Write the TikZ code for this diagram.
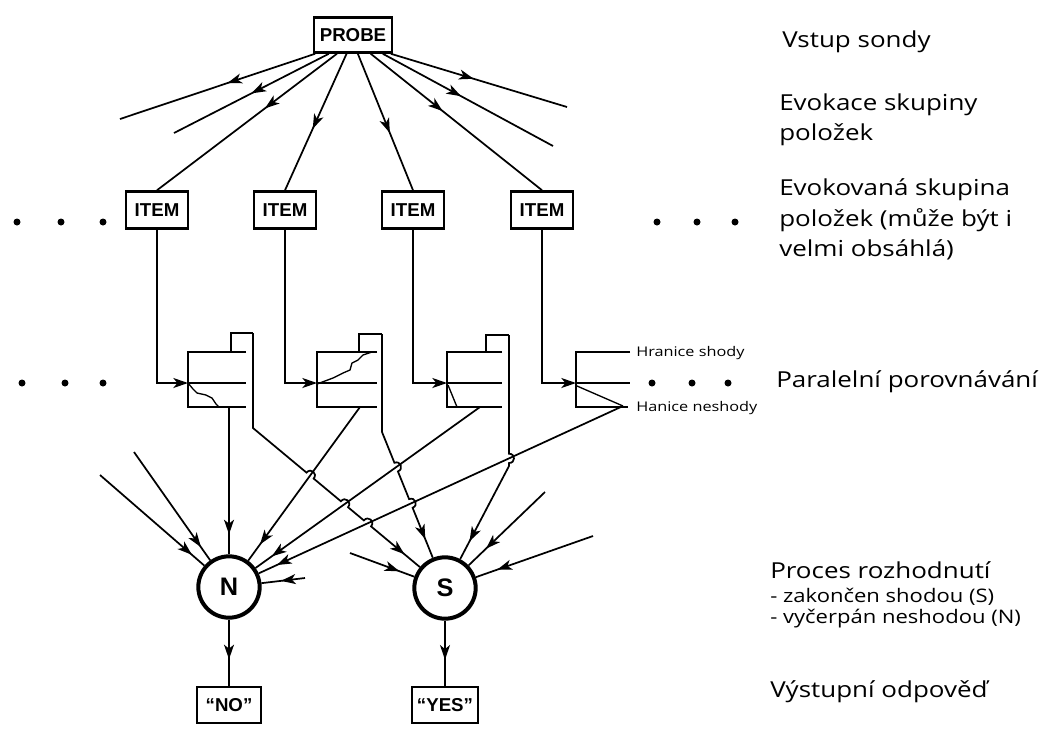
\documentclass[tikz,border=0pt]{standalone}
\usepackage{fontspec}
\setmainfont{Open Sans}
\newfontfamily\labfont{Liberation Sans}
\usepackage{graphicx}
\usetikzlibrary{arrows.meta,calc,intersections,decorations.markings}

\newcommand{\mkhop}[3]{%
  \coordinate (#1a) at ($(#1)!3.5pt!(#2)$);
  \coordinate (#1b) at ($(#1)!3.5pt!(#3)$);
  \coordinate (#1c) at ($(#1a)!5pt!90:(#1b)$);
  \coordinate (#1d) at ($(#1b)!5pt!-90:(#1a)$);}

\begin{document}
\begin{tikzpicture}[x=0.75pt,y=-0.75pt,
  conn/.style={line width=1.3pt},
  cmp/.style={line width=1.9pt},
  walk/.style={line width=1pt},
  lbox/.style={draw, line width=1.9pt, inner sep=0pt, font=\labfont\bfseries\fontsize{14}{16}\selectfont},
  dnode/.style={draw, circle, line width=3pt, minimum size=46pt, inner sep=0pt, font=\labfont\bfseries\fontsize{19}{21}\selectfont},
  marr/.style={postaction={decorate}, decoration={markings, mark=at position #1 with {\arrow[line width=1.3pt]{Stealth[length=11pt,width=7.5pt,inset=3pt]}}}},
  rtxt/.style={anchor=west, inner sep=0pt, font=\fontsize{16.5}{19}\selectfont},
  stxt/.style={anchor=west, inner sep=0pt, font=\fontsize{14}{16}\selectfont},
  ttxt/.style={anchor=west, inner sep=0pt, font=\fontsize{10}{12}\selectfont}]
\useasboundingbox (0,0) rectangle (1044,733);

% boxes
\node[lbox, minimum width=58.5pt, minimum height=26.25pt] (probe) at (353,35) {PROBE};
\node[lbox, minimum width=46.5pt, minimum height=27.75pt] (item1) at (157,210) {ITEM};
\node[lbox, minimum width=46.5pt, minimum height=27.75pt] (item2) at (285,210) {ITEM};
\node[lbox, minimum width=46.5pt, minimum height=27.75pt] (item3) at (413,210) {ITEM};
\node[lbox, minimum width=46.5pt, minimum height=27.75pt] (item4) at (542,210) {ITEM};
\node[dnode] (N) at (229,587) {N};
\node[dnode] (S) at (445,588) {S};
\node[lbox, minimum width=48pt, minimum height=27pt] (no) at (229,705) {“NO”};
\node[lbox, minimum width=49.5pt, minimum height=27pt] (yes) at (445,705) {“YES”};

% fan from probe
\coordinate (f1) at (120,119);
\coordinate (f2) at (174,133);
\coordinate (f7) at (553,146);
\coordinate (f8) at (567,107);
\draw[conn, marr=0.45] ($(probe.south west)!0.03!(probe.south east)$) -- (f1);
\draw[conn, marr=0.5] ($(probe.south west)!0.2!(probe.south east)$) -- (f2);
\draw[conn, marr=0.4] ($(probe.south west)!0.3!(probe.south east)$) -- (item1.north);
\draw[conn, marr=0.55] ($(probe.south west)!0.42!(probe.south east)$) -- (item2.north);
\draw[conn, marr=0.58] ($(probe.south west)!0.56!(probe.south east)$) -- (item3.north);
\draw[conn, marr=0.42] ($(probe.south west)!0.72!(probe.south east)$) -- (item4.north);
\draw[conn, marr=0.46] ($(probe.south west)!0.87!(probe.south east)$) -- (f7);
\draw[conn, marr=0.47] ($(probe.south west)!0.97!(probe.south east)$) -- (f8);

% dots
\foreach \x in {17,61,103,657,697,735} \fill (\x,222) circle[radius=3.5];
\foreach \x in {22,65,103,652,692,728} \fill (\x,383) circle[radius=3.5];

% comparator coordinates
\coordinate (c1in) at (188,383); \coordinate (c1nm) at (229,407);
\coordinate (c1t) at (231,352); \coordinate (c1r) at (253,333); \coordinate (c1bend) at (253,428);
\coordinate (c2in) at (317,383); \coordinate (c2nm) at (360,407);
\coordinate (c2t) at (359,352); \coordinate (c2r) at (382,334); \coordinate (c2bend) at (382,432);
\coordinate (c3in) at (447,383); \coordinate (c3nm) at (480,407);
\coordinate (c3t) at (486,352); \coordinate (c3r) at (509,335); \coordinate (c3bend) at (509,466);
\coordinate (c4in) at (576,383); \coordinate (c4nm) at (623,406);

% comparators
\draw[cmp] (246,352) -- (188,352) -- (188,407) -- (246,407); \draw[cmp] (188,383) -- (246,383);
\draw[cmp] (377,352) -- (317,352) -- (317,407) -- (377,407); \draw[cmp] (317,383) -- (377,383);
\draw[cmp] (502,352) -- (447,352) -- (447,407) -- (502,407); \draw[cmp] (447,383) -- (502,383);
\draw[cmp] (630,352) -- (576,352) -- (576,407) -- (628,407); \draw[cmp] (576,383) -- (630,383);

% inputs
\draw[conn, -{Stealth[length=11pt,width=7.5pt,inset=3pt]}] (item1.south) |- (c1in);
\draw[conn, -{Stealth[length=11pt,width=7.5pt,inset=3pt]}] (item2.south) |- (c2in);
\draw[conn, -{Stealth[length=11pt,width=7.5pt,inset=3pt]}] (item3.south) |- (c3in);
\draw[conn, -{Stealth[length=11pt,width=7.5pt,inset=3pt]}] (item4.south) |- (c4in);

% random walks
\draw[walk] (188,383) -- (193,389) -- (197,393) -- (206,395) -- (212,398) -- (216,404) -- (219,407);
\draw[walk] (317,384) -- (333,378) -- (343,373) -- (350,370) -- (352,363) -- (358,360) -- (363,355) -- (372,352);
\draw[walk] (448,385) -- (457,407);
\draw[walk] (577,386) -- (623,406);

% non-match lines to N
\draw[conn, marr=-15pt] (c1nm) -- (N);
\draw[conn, marr=-15pt, name path=nm2] (c2nm) -- (N);
\draw[conn, marr=-15pt, name path=nm3] (c3nm) -- (N);
\draw[conn, marr=-15pt, name path=nm4] (c4nm) -- (N);

% crossings
\path[name path=s1] (c1bend) -- (S);
\path[name path=s2] (c2bend) -- (S);
\path[name path=s3] (c3r) -- (c3bend);
\path[name intersections={of=s1 and nm2, by=x12}];
\path[name intersections={of=s1 and nm3, by=x13}];
\path[name intersections={of=s1 and nm4, by=x14}];
\path[name intersections={of=s2 and nm3, by=x23}];
\path[name intersections={of=s2 and nm4, by=x24}];
\path[name intersections={of=s3 and nm4, by=x34}];
\mkhop{x12}{c1bend}{S}
\mkhop{x13}{c1bend}{S}
\mkhop{x14}{c1bend}{S}
\mkhop{x23}{c2bend}{S}
\mkhop{x24}{c2bend}{S}
\mkhop{x34}{c3r}{c3bend}

% match lines to S
\draw[cmp] (c1t) -- (231,333) -- (c1r);
\draw[cmp] (c2t) -- (359,334) -- (c2r);
\draw[cmp] (c3t) -- (486,335) -- (c3r);
\draw[conn, marr=-15pt] (c1r) -- (c1bend) -- (x12a) .. controls (x12c) and (x12d) .. (x12b)
  -- (x13a) .. controls (x13c) and (x13d) .. (x13b)
  -- (x14a) .. controls (x14c) and (x14d) .. (x14b) -- (S);
\draw[conn, marr=-15pt] (c2r) -- (c2bend) -- (x23a) .. controls (x23c) and (x23d) .. (x23b)
  -- (x24a) .. controls (x24c) and (x24d) .. (x24b) -- (S);
\draw[conn, marr=-15pt] (c3r) -- (x34a) .. controls (x34c) and (x34d) .. (x34b) -- (c3bend) -- (S);

% external inputs
\coordinate (ea) at (100,475); \coordinate (eb) at (134,452); \coordinate (ec) at (305,578);
\coordinate (ed) at (350,553); \coordinate (ee) at (545,492); \coordinate (ef) at (593,536);
\draw[conn, marr=-12pt] (ea) -- (N);
\draw[conn, marr=-12pt] (eb) -- (N);
\draw[conn, marr=0.55] (ec) -- (N);
\draw[conn, marr=-12pt] (ed) -- (S);
\draw[conn, marr=-18pt] (ee) -- (S);
\draw[conn, marr=-17pt] (ef) -- (S);

% outputs
\draw[conn, marr=0.6] (N) -- (no);
\draw[conn, marr=0.6] (S) -- (yes);

% labels
\node[ttxt] (hs) at (636,353) {\scalebox{1.22}[1]{Hranice shody}};
\node[ttxt] (hn) at (636,408) {\scalebox{1.22}[1]{Hanice neshody}};

\node[rtxt] (t1) at (782,42) {\scalebox{1.18}[1]{Vstup sondy}};
\node[rtxt] (t2a) at (779,105) {\scalebox{1.18}[1]{Evokace skupiny}};
\node[rtxt] (t2b) at (779,135) {\scalebox{1.18}[1]{položek}};
\node[rtxt] (t3a) at (779,190) {\scalebox{1.18}[1]{Evokovaná skupina}};
\node[rtxt] (t3b) at (779,220) {\scalebox{1.18}[1]{položek (může být i}};
\node[rtxt] (t3c) at (779,250) {\scalebox{1.18}[1]{velmi obsáhlá)}};
\node[rtxt] (t4) at (776,382) {\scalebox{1.18}[1]{Paralelní porovnávání}};
\node[rtxt] (t5) at (770,570) {\scalebox{1.18}[1]{Proces rozhodnutí}};
\node[stxt] (t5a) at (770,597) {\scalebox{1.18}[1]{- zakončen shodou (S)}};
\node[stxt] (t5b) at (770,619) {\scalebox{1.18}[1]{- vyčerpán neshodou (N)}};
\node[rtxt] (t6) at (770,692) {\scalebox{1.18}[1]{Výstupní odpověď}};
\end{tikzpicture}
\end{document}
